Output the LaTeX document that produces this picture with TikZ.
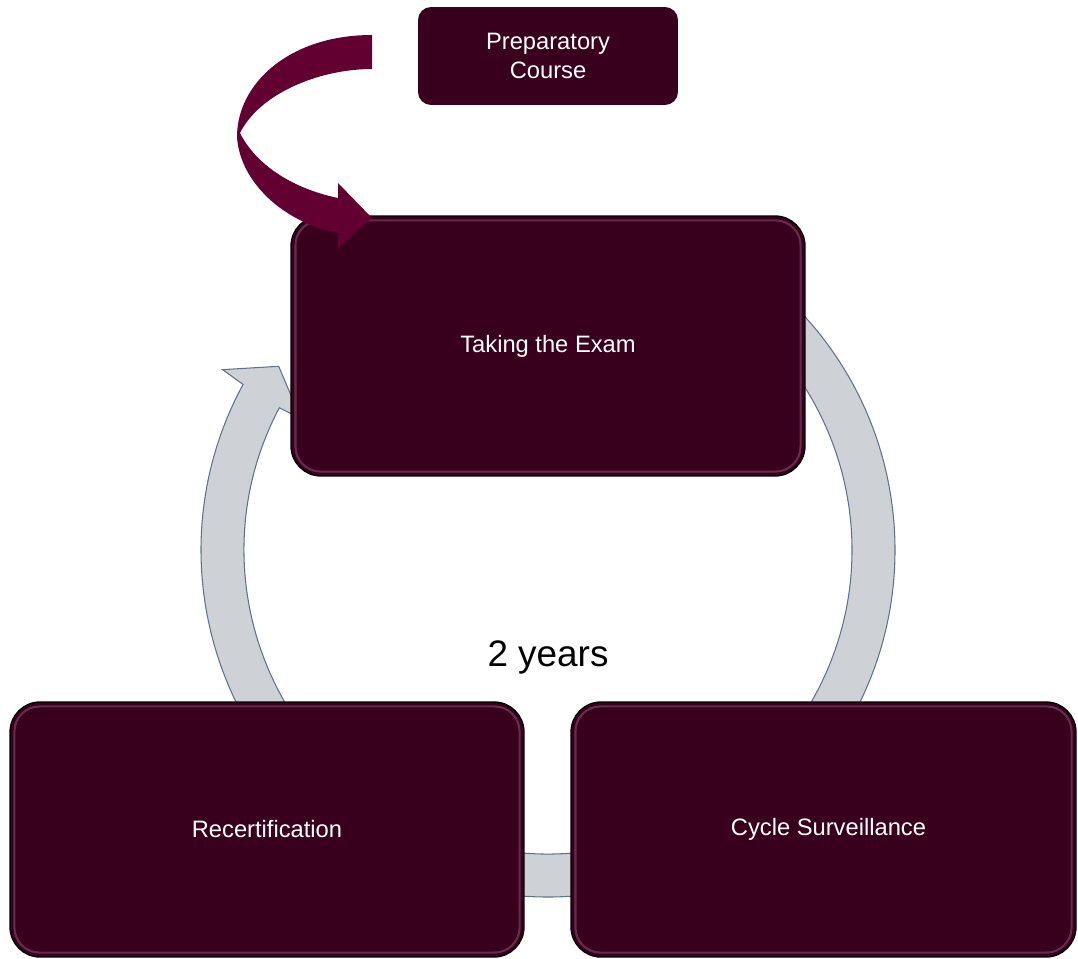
\documentclass[tikz,border=0pt]{standalone}
\usepackage{fontspec}
\setmainfont{Liberation Sans}
\usetikzlibrary{positioning}

\definecolor{wine}{RGB}{56,0,28}
\definecolor{berry}{RGB}{98,0,50}
\definecolor{gloss}{RGB}{205,150,185}
\definecolor{ringfill}{RGB}{206,209,214}
\definecolor{ringline}{RGB}{96,114,138}

\begin{document}
\begin{tikzpicture}[
  x=0.02cm, y=0.02cm,
  stagebox/.style={draw=black, line width=0.8pt, fill=wine, text=white,
    rounded corners=0.6cm, minimum width=10.28cm, minimum height=5.1cm,
    font=\fontsize{13.5}{16}\selectfont,
    path picture={\draw[gloss, opacity=0.3, line width=1.2pt, rounded corners=0.5cm]
      ([shift={(2.5pt,2.5pt)}]path picture bounding box.south west) rectangle
      ([shift={(-2.5pt,-2.5pt)}]path picture bounding box.north east);}},
  prepbox/.style={fill=wine, text=white, rounded corners=0.26cm,
    minimum width=5.2cm, minimum height=1.96cm, align=center,
    font=\fontsize{13.5}{16}\selectfont},
  cycle ring/.style={fill=ringfill, draw=ringline, line width=0.6pt},
  label/.style={font=\fontsize{21}{24}\selectfont}
]
  \useasboundingbox (0,0) rectangle (1078,958);

  % cycle ring with its head at the upper left
  \coordinate (hub) at (548,408);
  \path[cycle ring] ([shift={(hub)}]50:347) arc[start angle=50, end angle=-208.5, radius=347]
    -- ([shift={(hub)}]-209:372) -- ([shift={(hub)}]-214.3:326)
    -- ([shift={(hub)}]-208:280) -- ([shift={(hub)}]-207.9:304)
    arc[start angle=-207.9, end angle=50, radius=304] -- cycle;

  \node[prepbox] (prep) at (548,902) {Preparatory\\Course};
  \node[stagebox, minimum height=5.2cm] (exam) at (548,612) {Taking the Exam};
  \node[stagebox] (recert) at (267,128.5) {Recertification};
  \node[stagebox, minimum width=10.1cm] (surv) at (823.5,128.5) {\hspace*{0.2cm}Cycle Surveillance};
  \node[label] (years) at (548,301) {2 years};

  % curved arrow into the exam
  \fill[berry] (372,923) .. controls (290,923) and (237,875) .. (237,821)
    .. controls (240,775) and (285,735) .. (338,725)
    -- (338,710) -- (372,740) -- (338,775) -- (338,760)
    .. controls (290,770) and (255,795) .. (240,825)
    .. controls (260,865) and (320,889) .. (372,889) -- cycle;
\end{tikzpicture}
\end{document}
